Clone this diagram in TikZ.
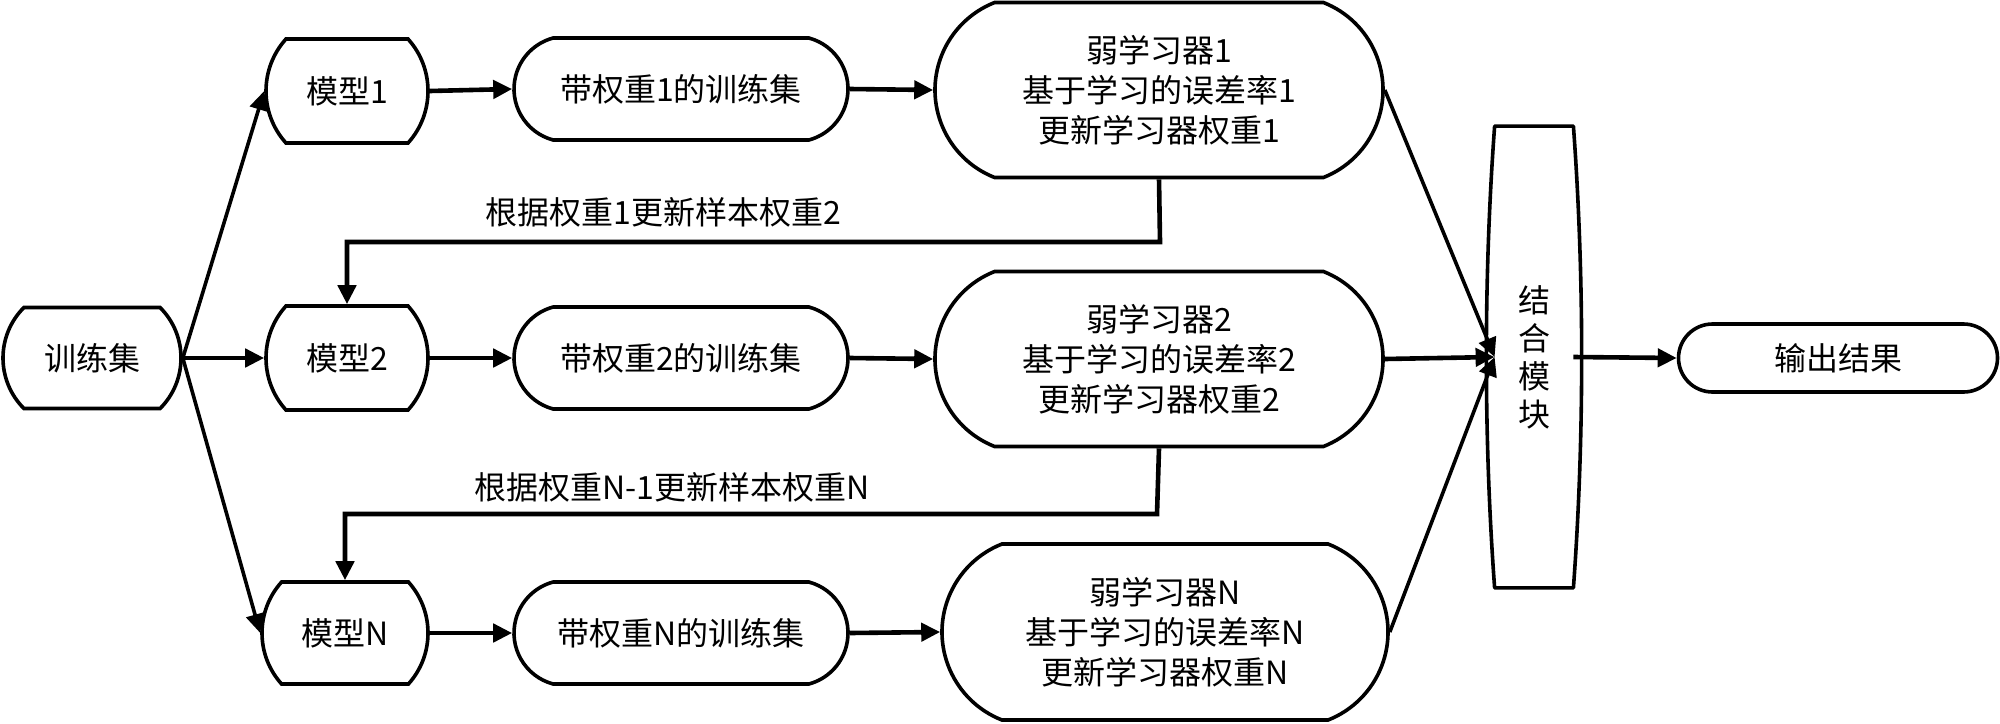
\documentclass[tikz,border=0pt]{standalone}
\usepackage{fontspec}
\setmainfont{Noto Sans CJK SC}
\usetikzlibrary{shapes.misc,arrows.meta}
\begin{document}
\begin{tikzpicture}[x=0.5pt,y=-0.5pt,
 box/.style={draw,line width=1.8pt,rounded rectangle,font=\fontsize{16pt}{20pt}\selectfont,align=center,inner sep=0pt},
 conn/.style={line width=2.3pt,-{Triangle[length=9.5pt,width=9pt]}},
 lbl/.style={font=\fontsize{16pt}{20pt}\selectfont,inner sep=0pt}]
\useasboundingbox (0,0) rectangle (2000,723);
\node[box,minimum width=89pt,minimum height=50.5pt,rounded rectangle arc length=90] (train) at (92,358) {训练集};
\node[box,minimum width=81pt,minimum height=52pt,rounded rectangle arc length=84] (m1) at (347,91) {模型1};
\node[box,minimum width=81pt,minimum height=52pt,rounded rectangle arc length=84] (m2) at (347,358) {模型2};
\node[box,minimum width=83pt,minimum height=51pt,rounded rectangle arc length=84] (mN) at (345,633) {模型N};
\node[box,minimum width=167pt,minimum height=51pt,rounded rectangle arc length=150] (t1) at (681,89) {带权重1的训练集};
\node[box,minimum width=167pt,minimum height=51pt,rounded rectangle arc length=150] (t2) at (681,358) {带权重2的训练集};
\node[box,minimum width=167pt,minimum height=51pt,rounded rectangle arc length=150] (tN) at (681,633) {带权重N的训练集};
\node[box,minimum width=224pt,minimum height=87.5pt,rounded rectangle arc length=137] (l1) at (1159,90) {弱学习器1\\基于学习的误差率1\\更新学习器权重1};
\node[box,minimum width=224pt,minimum height=87.5pt,rounded rectangle arc length=137] (l2) at (1159,359) {弱学习器2\\基于学习的误差率2\\更新学习器权重2};
\node[box,minimum width=223pt,minimum height=88pt,rounded rectangle arc length=137] (lN) at (1165,632) {弱学习器N\\基于学习的误差率N\\更新学习器权重N};
\node[rectangle,minimum width=39pt,minimum height=230.5pt,inner sep=0pt,align=center,font=\fontsize{16pt}{19pt}\selectfont] (comb) at (1534,357) {结\\合\\模\\块};
\draw[line width=1.8pt,line join=round] (comb.north west) -- (comb.north east)
  .. controls +(11,150) and +(11,-150) .. (comb.south east) -- (comb.south west)
  .. controls +(-11,-150) and +(-11,150) .. cycle;
\node[box,minimum width=159.5pt,minimum height=34pt,rounded rectangle arc length=180] (out) at (1838,358) {输出结果};
\node[lbl] (lab1) at (663,212) {根据权重1更新样本权重2};
\node[lbl] (lab2) at (672,487) {根据权重N-1更新样本权重N};
\coordinate (f1) at (1160,242);
\coordinate (f2) at (1157,514);
\draw[conn,line width=1.8pt] (train.east) -- (m1.west);
\draw[conn] (train.east) -- (m2.west);
\draw[conn,line width=1.8pt] (train.east) -- (mN.west);
\draw[conn] (m1.east) -- (t1.west);
\draw[conn] (m2.east) -- (t2.west);
\draw[conn] (mN.east) -- (tN.west);
\draw[conn] (t1.east) -- (l1.west);
\draw[conn] (t2.east) -- (l2.west);
\draw[conn] (tN.east) -- (lN.west);
\draw[conn,line width=1.8pt] (l1.east) -- (comb.west);
\draw[conn] (l2.east) -- (comb.west);
\draw[conn,line width=1.8pt] (lN.east) -- (comb.west);
\draw[conn] (comb.east) -- (out.west);
\draw[conn] (l1.south) -- (f1) -| (m2.north);
\draw[conn] (l2.south) -- (f2) -| (mN.north);
\end{tikzpicture}
\end{document}
